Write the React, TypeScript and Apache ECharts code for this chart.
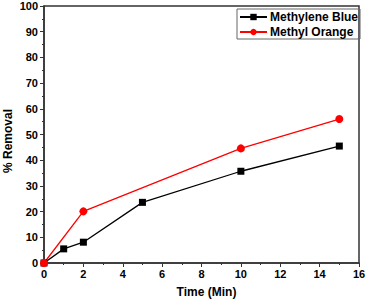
import React, { useEffect, useRef } from "react";
import * as echarts from "echarts";

const timeMin = [0, 1, 2, 5, 10, 15];
const methyleneBlue = [0, 5.5, 8.1, 23.6, 35.7, 45.5];
const timeMO = [0, 2, 10, 15];
const methylOrange = [0, 20.1, 44.6, 56.0];
const seriesNames = ["Methylene Blue", "Methyl Orange"];

export default function App() {
  const ref = useRef<HTMLDivElement>(null);
  useEffect(() => {
    const chart = echarts.init(ref.current!, null, { renderer: "svg" });
    const font = "Arial, 'Liberation Sans', sans-serif";
    const axisCol = "#333";
    chart.setOption({
      animation: false,
      grid: {
        left: 44,
        right: 7,
        top: 6,
        bottom: 37,
        containLabel: false,
        outerBoundsMode: "none",
        show: true,
        borderColor: axisCol,
        borderWidth: 1.5,
      },
      legend: {
        orient: "vertical",
        left: 237,
        top: 9,
        itemGap: 3,
        itemWidth: 27,
        itemHeight: 8,
        borderColor: "#666",
        borderWidth: 1,
        padding: [2, 2, 1, 2],
        textStyle: { fontFamily: font, fontWeight: "bold", fontSize: 12, color: "#000", padding: [0, 0, 0, -2] },
        data: seriesNames,
      },
      xAxis: {
        type: "value",
        min: 0,
        max: 16,
        interval: 2,
        name: "Time (Min)",
        nameLocation: "middle",
        nameGap: 23,
        nameMoveOverlap: false,
        nameTextStyle: { fontFamily: font, fontWeight: "bold", fontSize: 12, color: "#000", padding: [0, 0, 0, 10] },
        axisLine: { show: true, onZero: false, lineStyle: { color: axisCol, width: 1.5 } },
        axisTick: { show: true, length: 4, lineStyle: { color: axisCol, width: 1 } },
        minorTick: { show: true, splitNumber: 2, length: 2, lineStyle: { color: axisCol } },
        splitLine: { show: false },
        axisLabel: { fontFamily: font, fontWeight: "bold", fontSize: 11, color: "#000", margin: 5 },
      },
      yAxis: {
        type: "value",
        min: 0,
        max: 100,
        interval: 10,
        name: "% Removal",
        nameLocation: "middle",
        nameGap: 30,
        nameMoveOverlap: false,
        nameTextStyle: { fontFamily: font, fontWeight: "bold", fontSize: 12, color: "#000", padding: [0, 13, 0, 0] },
        axisLine: { show: true, onZero: false, lineStyle: { color: axisCol, width: 1.5 } },
        axisTick: { show: true, length: 4, lineStyle: { color: axisCol, width: 1 } },
        minorTick: { show: true, splitNumber: 2, length: 2, lineStyle: { color: axisCol } },
        splitLine: { show: false },
        axisLabel: { fontFamily: font, fontWeight: "bold", fontSize: 11, color: "#000", margin: 6 },
      },
      series: [
        {
          name: seriesNames[0],
          type: "line",
          data: timeMin.map((t, i) => [t, methyleneBlue[i]]),
          symbol: "rect",
          symbolSize: 7,
          itemStyle: { color: "#000" },
          lineStyle: { color: "#000", width: 1.3 },
        },
        {
          name: seriesNames[1],
          type: "line",
          data: timeMO.map((t, i) => [t, methylOrange[i]]),
          symbol: "circle",
          symbolSize: 8,
          itemStyle: { color: "#ff0000" },
          lineStyle: { color: "#ff0000", width: 1.3 },
        },
      ],
    });
    return () => chart.dispose();
  }, []);
  return <div ref={ref} style={{ width: 366, height: 300, position: "absolute", left: 0, top: 0 }} />;
}
